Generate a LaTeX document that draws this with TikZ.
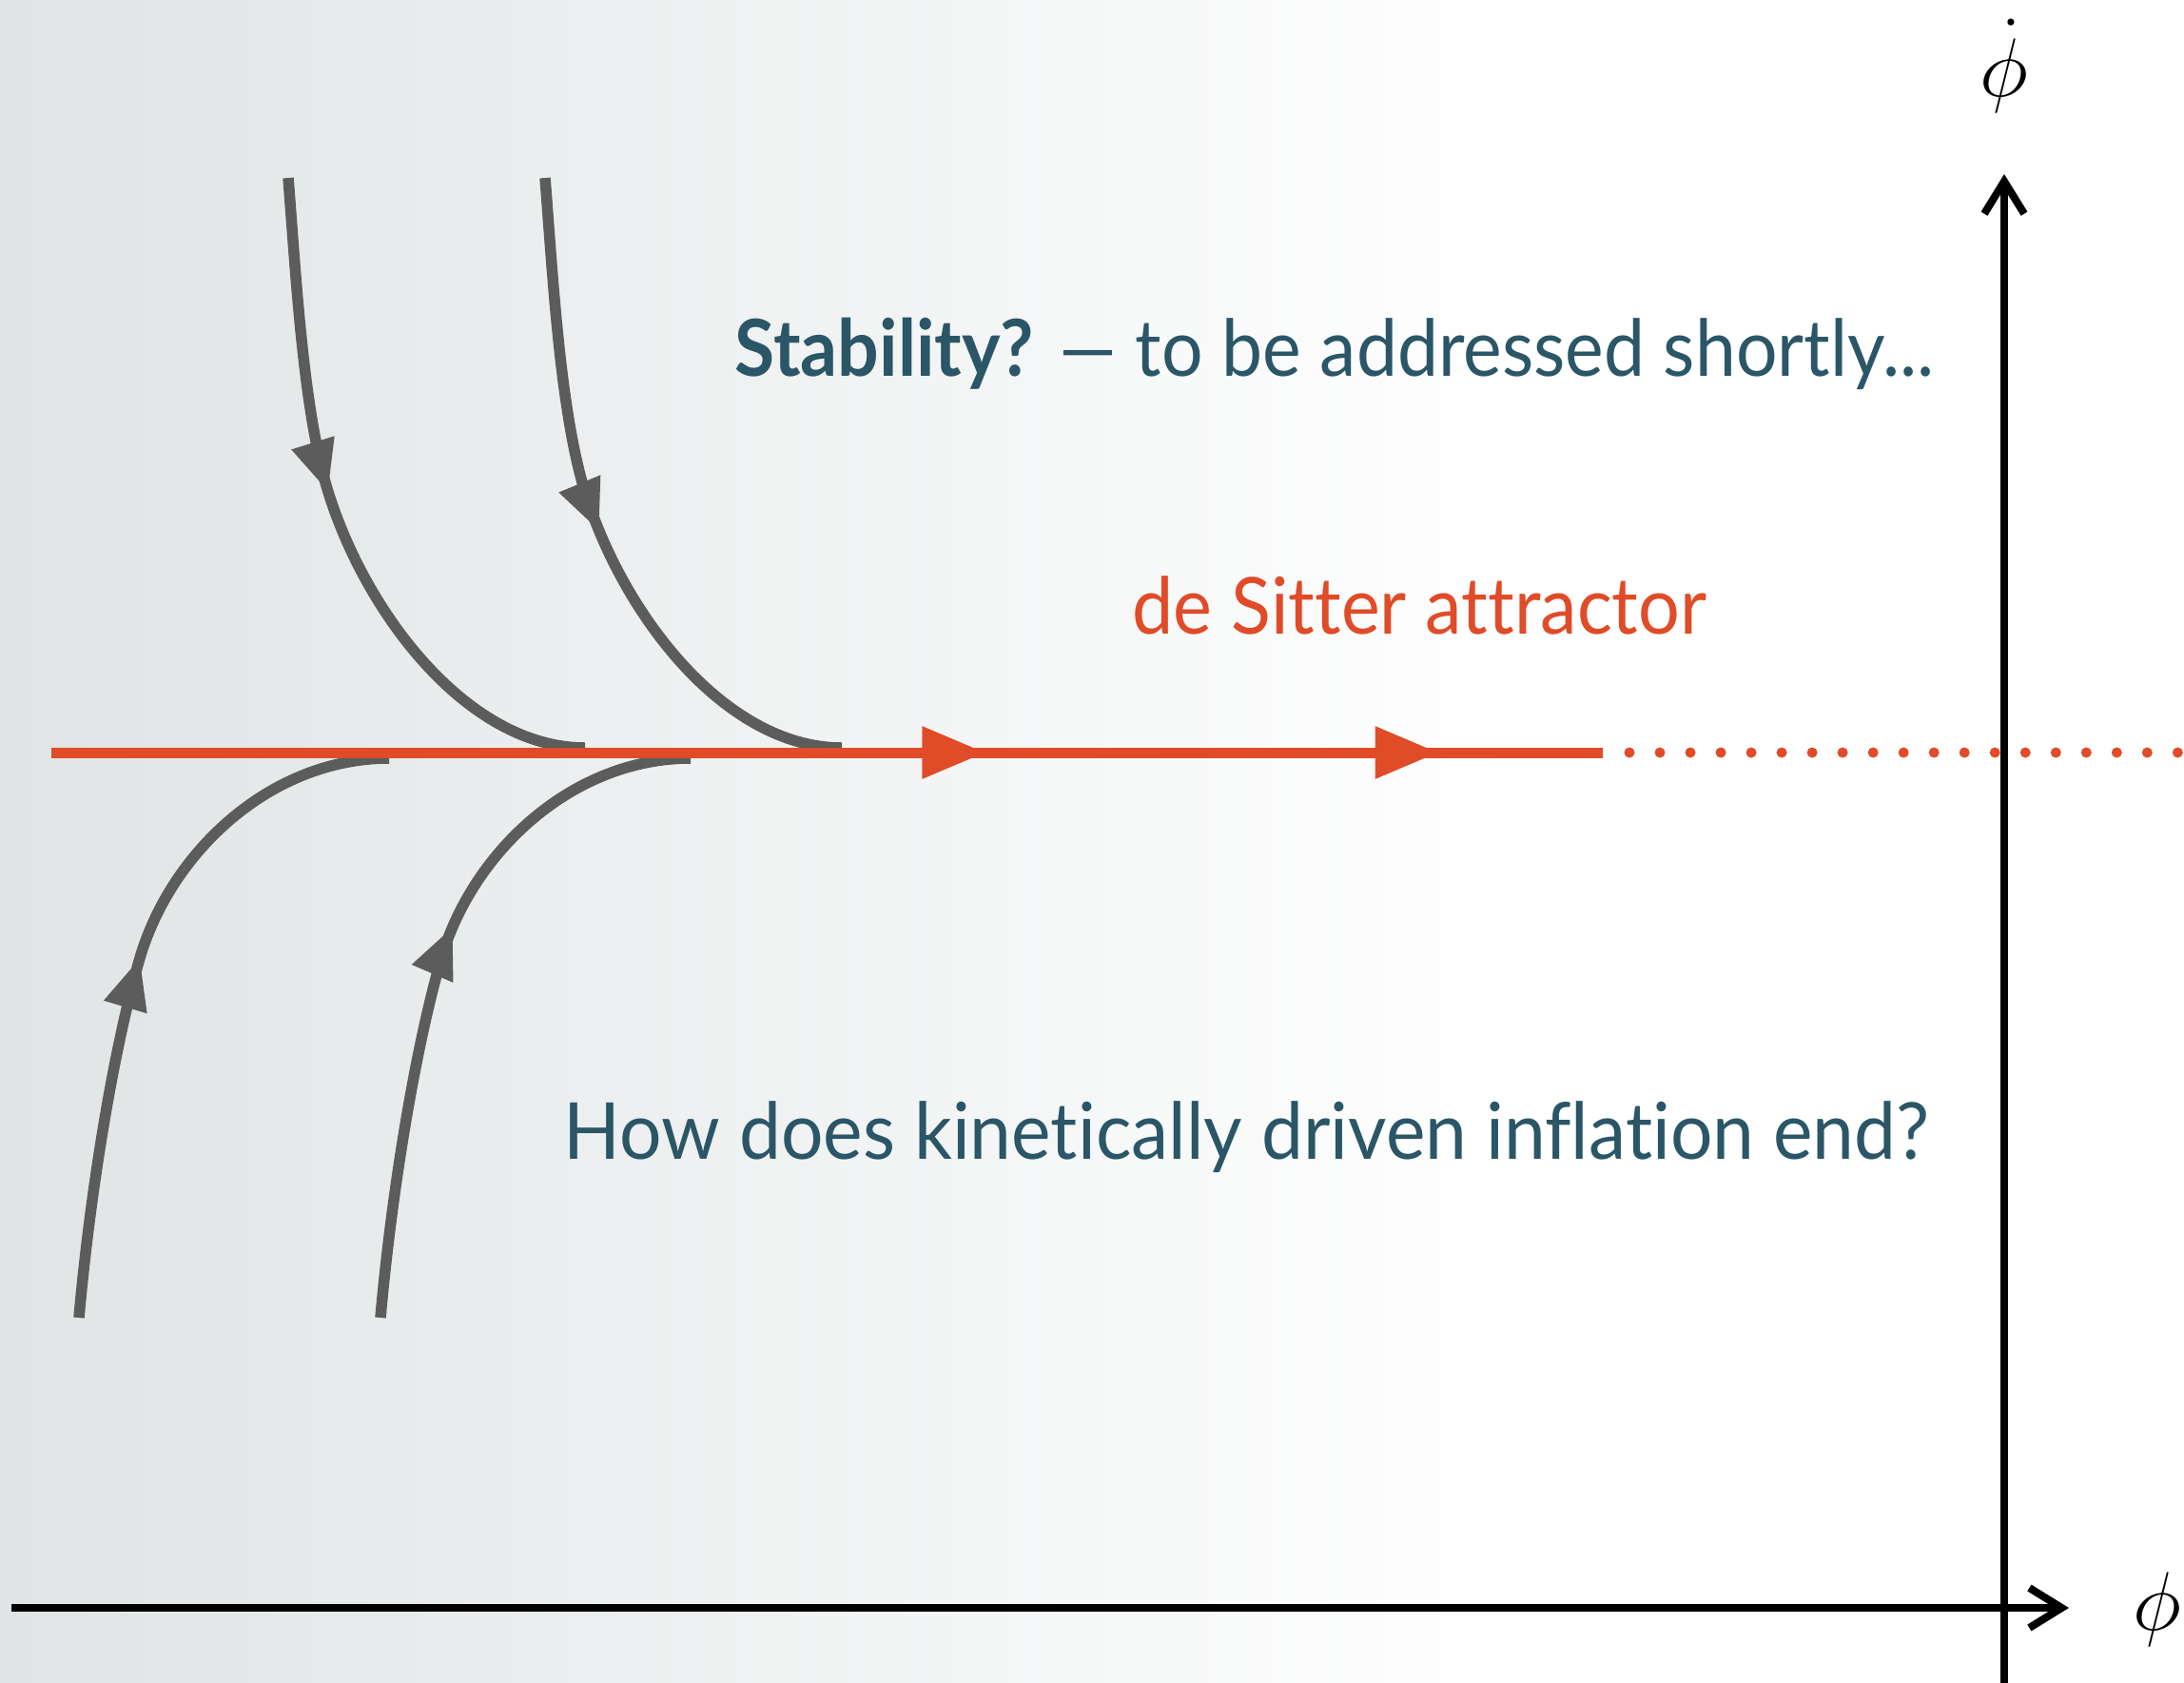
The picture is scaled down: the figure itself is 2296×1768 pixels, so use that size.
\documentclass[tikz,border=0pt]{standalone}
\usepackage{fontspec}
\setmainfont{Lato}[Ligatures=CommonOff]
\usetikzlibrary{arrows.meta,decorations.markings}
\definecolor{teal2}{RGB}{42,86,103}
\definecolor{attr}{RGB}{224,75,40}
\definecolor{flow}{RGB}{92,92,92}
\definecolor{bggrey}{RGB}{224,228,229}
\begin{document}
\begin{tikzpicture}[x=0.01cm,y=-0.01cm,
  flowline/.style={draw=flow, line width=0.115cm},
  flowmark/.style={postaction={decorate}, decoration={markings,
     mark=at position #1 with {\arrow{Triangle[length=0.54cm,width=0.44cm,fill=flow,color=flow]}}}},
  attrline/.style={draw=attr, line width=0.11cm},
  attrmark/.style={postaction={decorate}, decoration={markings,
     mark=at position #1 with {\arrow{Triangle[length=0.66cm,width=0.52cm,fill=attr,color=attr]}}}},
  axis/.style={draw=black, line width=0.08cm, -{Straight Barb[length=0.34cm,width=0.42cm]}},
  txt/.style={inner sep=0pt, font=\fontsize{23.5}{28}\selectfont},
  lbl/.style={inner sep=0pt, font=\fontsize{27}{32}\selectfont}
]
\useasboundingbox (0,0) rectangle (2296,1768);
% background
\fill[white] (0,0) rectangle (2296,1768);
\shade[left color=bggrey, middle color=bggrey!55!white, right color=white] (0,0) rectangle (1600,1768);

% coordinates
\coordinate (a0) at (303,187);  \coordinate (a1) at (615,786);
\coordinate (b0) at (573,187);  \coordinate (b1) at (885,786);
\coordinate (c0) at (83,1385);  \coordinate (c1) at (409,797);
\coordinate (d0) at (400,1385); \coordinate (d1) at (726,797);
\coordinate (r0) at (54,791);   \coordinate (r1) at (1685,791);
\coordinate (s0) at (1713,791); \coordinate (s1) at (2300,791);
\coordinate (xo) at (12,1690);  \coordinate (xe) at (2175,1690);
\coordinate (yo) at (2107,1770); \coordinate (ye) at (2107,183);

% flow lines
\draw[flowline, flowmark=3.33cm] (a0) .. controls (311,287) and (318,420) .. (342,507)
   .. controls (380,640) and (490,786) .. (a1);
\draw[flowline, flowmark=3.77cm] (b0) .. controls (581,287) and (588,420) .. (612,507)
   .. controls (650,640) and (760,786) .. (b1);
\draw[flowline, flowmark=3.84cm] (c0) .. controls (95,1250) and (120,1100) .. (147,1007)
   .. controls (180,895) and (285,797) .. (c1);
\draw[flowline, flowmark=4.19cm] (d0) .. controls (412,1250) and (437,1100) .. (464,1007)
   .. controls (497,895) and (602,797) .. (d1);

% attractor
\draw[attrline, attrmark=9.81cm, attrmark=14.57cm] (r0) -- (r1);
\draw[attrline, line cap=round, dash pattern=on 0pt off 0.32cm] (s0) -- (s1);

% axes
\draw[axis] (xo) -- (xe);
\draw[axis] (yo) -- (ye);
\node[lbl, anchor=base] (phidot) at (2107,101) {$\dot\phi$};
\node[lbl, anchor=base] (phi) at (2268,1713) {$\phi$};

% texts
\node[txt, anchor=base west, text=teal2] (stab) at (772,395) {\scalebox{0.93}[1]{\textbf{Stability?} — to be addressed shortly...}};
\node[txt, anchor=base west, text=attr] (ds) at (1190,666) {\scalebox{0.935}[1]{de Sitter attractor}};
\node[txt, anchor=base west, text=teal2] (how) at (592,1218) {\scalebox{0.95}[1]{How does kinetically driven inflation end?}};
\end{tikzpicture}
\end{document}
